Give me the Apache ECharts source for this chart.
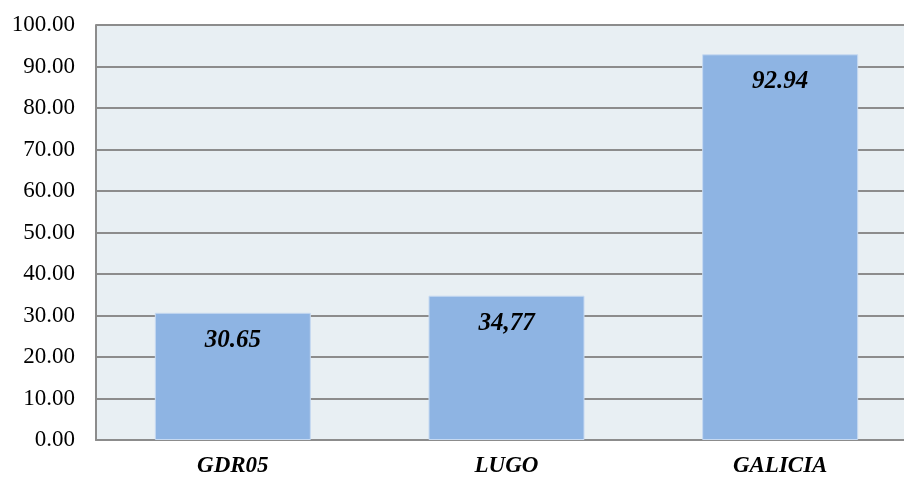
<!DOCTYPE html>
<html>
<head>
<meta charset="utf-8">
<script src="https://cdn.jsdelivr.net/npm/echarts@6/dist/echarts.min.js"></script>
<style>
  html, body { margin: 0; padding: 0; background: #fff; }
  #chart { width: 904px; height: 477px; }
</style>
</head>
<body>
<div id="chart"></div>
<script>
const categories = ['GDR05', 'LUGO', 'GALICIA']
const values = [30.65, 34.77, 92.94]
const valueLabels = ['30.65', '34,77', '92.94']

const serif = '"Liberation Serif", "DejaVu Serif", serif'

const chart = echarts.init(document.getElementById('chart'))

chart.setOption({
  animation: false,
  grid: {
    left: 96,
    top: 25,
    width: 821,
    height: 415,
    outerBoundsMode: 'none',
    containLabel: false,
    show: true,
    backgroundColor: '#E8EFF3',
    borderWidth: 0,
  },
  xAxis: {
    type: 'category',
    data: categories,
    axisLine: { lineStyle: { color: '#8C8C8C', width: 2 } },
    axisTick: { show: false },
    axisLabel: {
      color: '#000',
      fontFamily: serif,
      fontSize: 23,
      fontWeight: 'bold',
      fontStyle: 'italic',
      margin: 15,
    },
  },
  yAxis: {
    type: 'value',
    min: 0,
    max: 100,
    interval: 10,
    axisLine: { show: true, lineStyle: { color: '#8C8C8C', width: 2 } },
    axisTick: { show: false },
    splitLine: { lineStyle: { color: '#8C8C8C', width: 2 } },
    axisLabel: {
      color: '#000',
      fontFamily: serif,
      fontSize: 23,
      margin: 21,
      formatter: (v) => v.toFixed(2),
    },
  },
  series: [
    {
      type: 'bar',
      data: values,
      barWidth: 156,
      itemStyle: {
        color: '#8EB4E3',
        borderColor: '#C6D9F1',
        borderWidth: 1,
      },
      label: {
        show: true,
        position: 'insideTop',
        distance: 15,
        color: '#000',
        fontFamily: serif,
        fontSize: 25,
        fontWeight: 'bold',
        fontStyle: 'italic',
        formatter: (p) => valueLabels[p.dataIndex],
      },
    },
  ],
})
</script>
</body>
</html>
